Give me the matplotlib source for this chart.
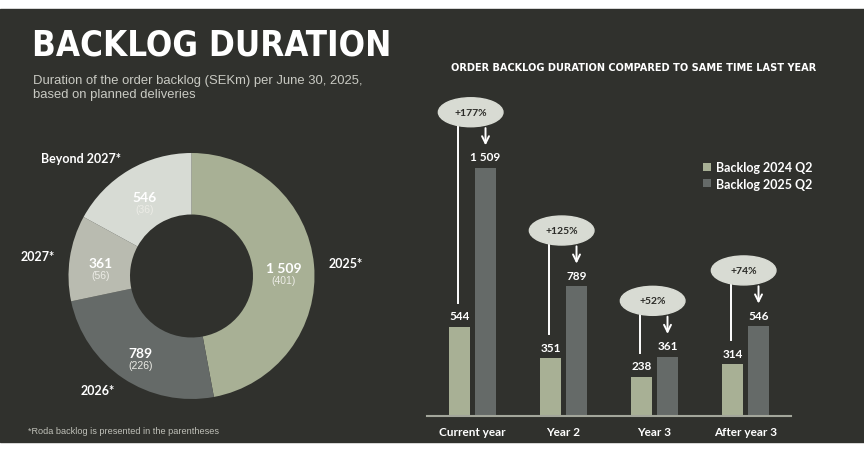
import numpy as np
import matplotlib.pyplot as plt
from matplotlib.patches import Ellipse, Rectangle

# donut data (SEKm, June 30 2025)
donut_labels = ['2025*', '2026*', '2027*', 'Beyond 2027*']
donut_values = [1509, 789, 361, 546]
roda_values = [401, 226, 56, 36]
donut_colors = ['#a8b095', '#656a68', '#b9bbb0', '#d7dbd4']

# bar data
categories = ['Current year', 'Year 2', 'Year 3', 'After year 3']
backlog_2024 = [544, 351, 238, 314]
backlog_2025 = [1509, 789, 361, 546]

BG = '#30312d'
W, H = 864, 452
BOLD = ['Lato', 'DejaVu Sans']
NARROW = ['Liberation Sans', 'DejaVu Sans']


def fmt(v):
    return f'{v:,}'.replace(',', ' ')


fig = plt.figure(figsize=(W / 100, H / 100), dpi=100)
fig.patch.set_facecolor('white')
fig.patches.append(Rectangle((0, (H - 443) / H), 1, (443 - 10) / H,
                             transform=fig.transFigure, color=BG, zorder=-10))

fig.text(32 / W, 1 - 46 / H, 'BACKLOG DURATION', family='DejaVu Sans', stretch='condensed',
         weight='bold', fontsize=25, color='white', va='center')
fig.text(33 / W, 1 - 88 / H,
         'Duration of the order backlog (SEKm) per June 30, 2025,\nbased on planned deliveries',
         family=NARROW, fontsize=9.4, color='#c9cac3', va='center', linespacing=1.2)
fig.text(28 / W, 1 - 432 / H, '*Roda backlog is presented in the parentheses',
         family=NARROW, fontsize=6.6, color='#bfc0b8', va='center')

# ---- donut ----
R, cx, cy = 123, 191.5, 277
ax1 = fig.add_axes([(cx - 1.5 * R) / W, (H - cy - 1.5 * R) / H, 3 * R / W, 3 * R / H])
wedges, texts = ax1.pie(donut_values, labels=donut_labels, colors=donut_colors,
                        startangle=90, counterclock=False, labeldistance=1.12,
                        wedgeprops=dict(width=0.5, linewidth=0),
                        textprops=dict(color='white', weight='bold', fontsize=9, family=BOLD))
ax1.set_xlim(-1.5, 1.5)
ax1.set_ylim(-1.5, 1.5)
ax1.set_aspect('equal')
ax1.axis('off')

for w, v, r in zip(wedges, donut_values, roda_values):
    ang = np.deg2rad((w.theta1 + w.theta2) / 2)
    x, y = 0.75 * np.cos(ang), 0.75 * np.sin(ang)
    ax1.text(x, y, fmt(v), ha='center', va='center', color='white',
             weight='bold', fontsize=10, family=BOLD)
    ax1.annotate(f'({r})', (x, y), xytext=(0, -9), textcoords='offset points',
                 ha='center', va='center', color='#ecece6', fontsize=7.5, family=NARROW)

# ---- bars ----
top_px, base_px = 95, 417
ax2 = fig.add_axes([427 / W, (H - base_px) / H, 364 / W, (base_px - top_px) / H])
ax2.set_facecolor('none')
ymax = 1960
upx = (base_px - top_px) / ymax  # px per unit
x = np.arange(len(categories))
off, bw = 0.143, 0.23
b1 = ax2.bar(x - off, backlog_2024, bw, color='#a8b095', label='Backlog 2024 Q2')
b2 = ax2.bar(x + off, backlog_2025, bw, color='#656a68', label='Backlog 2025 Q2')
ax2.set_xlim(-0.5, 3.5)
ax2.set_ylim(0, ymax)

for bars in (b1, b2):
    for rect in bars:
        ax2.annotate(fmt(int(rect.get_height())),
                     (rect.get_x() + rect.get_width() / 2, rect.get_height()),
                     xytext=(0, 8), textcoords='offset points', ha='center', va='center',
                     color='white', weight='bold', fontsize=8.5, family=BOLD)

eh = 29 / upx
for i, (a, b) in enumerate(zip(backlog_2024, backlog_2025)):
    ey = b + 340
    ax2.add_patch(Ellipse((i - 0.02, ey), 0.71, eh, color='#d8dbd3', zorder=3))
    ax2.text(i - 0.02, ey, f'+{round((b / a - 1) * 100)}%', ha='center', va='center',
             color='#2b2b27', weight='bold', fontsize=7.5, family=BOLD, zorder=4)
    ax2.plot([i - off - 0.02, i - off - 0.02], [ey - eh * 0.4, a + 24 / upx],
             color='white', lw=1.4, zorder=2)
    ax2.annotate('', xy=(i + off, b + 20 / upx), xytext=(i + off, ey - eh * 0.45),
                 arrowprops=dict(arrowstyle='->,head_length=0.5,head_width=0.25',
                                 color='white', lw=1.4), zorder=2)

for s in ['top', 'right', 'left']:
    ax2.spines[s].set_visible(False)
ax2.spines['bottom'].set_color('#a3a69b')
ax2.spines['bottom'].set_linewidth(1.5)
ax2.set_yticks([])
ax2.set_xticks(x, categories)
ax2.tick_params(axis='x', length=0, pad=7, colors='white')
for t in ax2.get_xticklabels():
    t.set_fontweight('bold')
    t.set_fontsize(8.5)
    t.set_family(BOLD)

fig.legend(handles=[b1, b2], loc='upper left', bbox_to_anchor=(697 / W, 1 - 156 / H),
           frameon=False, borderpad=0, handlelength=0.6, handleheight=0.6,
           handletextpad=0.4, labelspacing=0.35, labelcolor='white',
           prop=dict(family='Lato', weight='bold', size=9))

fig.text(634 / W, 1 - 68 / H, 'ORDER BACKLOG DURATION COMPARED TO SAME TIME LAST YEAR',
         family='DejaVu Sans', stretch='condensed', weight='bold', fontsize=7.85,
         color='white', ha='center', va='center')

fig.savefig('out.png', dpi=100, facecolor=fig.get_facecolor())
